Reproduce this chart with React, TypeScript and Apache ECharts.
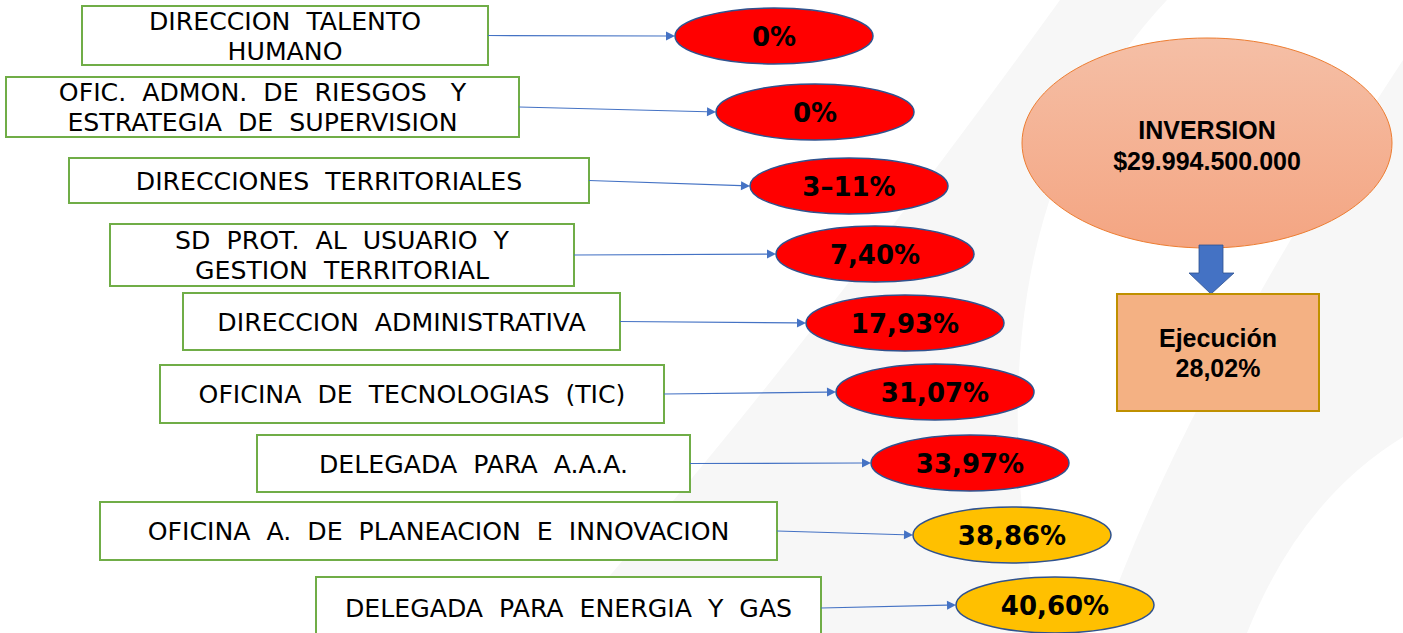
import React, { useEffect, useRef } from "react";
import * as echarts from "echarts";

// ---------- data ----------
const UNITS: string[] = [
  "DIRECCION  TALENTO\nHUMANO",
  "OFIC.  ADMON.  DE  RIESGOS   Y\nESTRATEGIA  DE  SUPERVISION",
  "DIRECCIONES  TERRITORIALES",
  "SD  PROT.  AL  USUARIO  Y\nGESTION  TERRITORIAL",
  "DIRECCION  ADMINISTRATIVA",
  "OFICINA  DE  TECNOLOGIAS  (TIC)",
  "DELEGADA  PARA  A.A.A.",
  "OFICINA  A.  DE  PLANEACION  E  INNOVACION",
  "DELEGADA  PARA  ENERGIA  Y  GAS",
];
const EXECUTION_LABELS: string[] = ["0%", "0%", "3–11%", "7,40%", "17,93%", "31,07%", "33,97%", "38,86%", "40,60%"];
const EXECUTION_STATUS: string[] = ["bajo", "bajo", "bajo", "bajo", "bajo", "bajo", "bajo", "medio", "medio"];
const INVESTMENT_TITLE = "INVERSION";
const INVESTMENT_VALUE = "$29.994.500.000";
const TOTAL_TITLE = "Ejecución";
const TOTAL_VALUE = "28,02%";

// ---------- layout (positions / sizes) ----------
const W = 1403;
const H = 633;
const BOX_RECTS: number[][] = [
  [82, 6, 406, 59],
  [6, 77, 513, 60],
  [69, 158, 520, 45],
  [110, 224, 464, 62],
  [183, 293, 437, 57],
  [160, 365, 504, 58],
  [257, 435, 433, 57],
  [100, 502, 677, 58],
  [316, 577, 505, 62],
];
const OVAL_CENTERS: number[][] = [
  [774, 36],
  [815, 112],
  [849, 186],
  [875, 254],
  [905, 323],
  [935, 392],
  [970, 463],
  [1012, 535],
  [1055, 605],
];
const OVAL_RX = 99;
const OVAL_RY = 28;
const STATUS_COLORS: Record<string, string> = { bajo: "#FF0000", medio: "#FFC000" };

echarts.graphic.registerShape(
  "swooshA",
  echarts.graphic.extendPath("M560 633 Q800 360 1060 0 L1167 0 Q960 220 1040 633 Z", {})
);
echarts.graphic.registerShape(
  "swooshB",
  echarts.graphic.extendPath("M1100 633 Q1180 400 1403 60 L1403 437 Q1300 500 1247 633 Z", {})
);

export default function App() {
  const ref = useRef<HTMLDivElement>(null);
  useEffect(() => {
    document.body.style.margin = "0";
    const chart = echarts.init(ref.current!, null, { renderer: "svg" });
    const els: any[] = [];
    els.push({ type: "rect", shape: { x: 0, y: 0, width: W, height: H }, style: { fill: "#ffffff" }, silent: true });
    els.push({ type: "swooshA", x: 0, y: 0, scaleX: 1, scaleY: 1, style: { fill: "#f7f7f7" }, silent: true });
    els.push({ type: "swooshB", x: 0, y: 0, scaleX: 1, scaleY: 1, style: { fill: "#f7f7f7" }, silent: true });

    UNITS.forEach((label, i) => {
      const [bx, by, bw, bh] = BOX_RECTS[i];
      const [cx, cy] = OVAL_CENTERS[i];
      els.push({
        type: "rect",
        shape: { x: bx, y: by, width: bw, height: bh },
        style: { fill: "#ffffff", stroke: "#70AD47", lineWidth: 2 },
      });
      els.push({
        type: "text",
        x: bx + bw / 2,
        y: by + bh / 2 + 1,
        scaleX: 1.05,
        style: {
          text: label,
          x: 0,
          y: 0,
          align: "center",
          verticalAlign: "middle",
          fontFamily: "DejaVu Sans",
          fontSize: 24,
          lineHeight: 30,
          fill: "#000000",
        },
      });
      // connector arrow
      const x1 = bx + bw;
      const y1 = by + bh / 2;
      const x2 = cx - OVAL_RX;
      const y2 = cy;
      const dx = x2 - x1;
      const dy = y2 - y1;
      const len = Math.sqrt(dx * dx + dy * dy);
      const ux = dx / len;
      const uy = dy / len;
      const hl = 9;
      const hw = 4.5;
      const bxh = x2 - ux * hl;
      const byh = y2 - uy * hl;
      els.push({
        type: "line",
        shape: { x1, y1, x2: bxh, y2: byh },
        style: { stroke: "#4472C4", lineWidth: 1.2 },
      });
      els.push({
        type: "polygon",
        shape: {
          points: [
            [x2, y2],
            [bxh - uy * hw, byh + ux * hw],
            [bxh + uy * hw, byh - ux * hw],
          ],
        },
        style: { fill: "#4472C4" },
      });
      els.push({
        type: "ellipse",
        shape: { cx, cy, rx: OVAL_RX, ry: OVAL_RY },
        style: { fill: STATUS_COLORS[EXECUTION_STATUS[i]], stroke: "#2F528F", lineWidth: 1.5 },
      });
      els.push({
        type: "text",
        style: {
          text: EXECUTION_LABELS[i],
          x: cx,
          y: cy + 1,
          align: "center",
          verticalAlign: "middle",
          fontFamily: "DejaVu Sans",
          fontWeight: "bold",
          fontSize: 26,
          fill: "#000000",
        },
      });
    });

    // investment ellipse
    els.push({
      type: "ellipse",
      shape: { cx: 1207, cy: 143, rx: 185, ry: 105 },
      style: {
        fill: new echarts.graphic.LinearGradient(0, 0, 0, 1, [
          { offset: 0, color: "#F5BFA6" },
          { offset: 1, color: "#F4A582" },
        ]),
        stroke: "#ED7D31",
        lineWidth: 1,
      },
    });
    els.push({
      type: "text",
      style: {
        text: INVESTMENT_TITLE + "\n" + INVESTMENT_VALUE,
        x: 1207,
        y: 145,
        align: "center",
        verticalAlign: "middle",
        fontFamily: "Liberation Sans",
        fontWeight: "bold",
        fontSize: 25,
        lineHeight: 31,
        fill: "#000000",
      },
    });
    // down arrow
    els.push({
      type: "polygon",
      shape: {
        points: [
          [1199, 245],
          [1223, 245],
          [1223, 273],
          [1234, 273],
          [1211, 294],
          [1189, 273],
          [1199, 273],
        ],
      },
      style: { fill: "#4472C4", stroke: "#2F528F", lineWidth: 0.8 },
    });
    // execution box
    els.push({
      type: "rect",
      shape: { x: 1117, y: 294, width: 202, height: 117 },
      style: { fill: "#F4B183", stroke: "#BF9000", lineWidth: 2 },
    });
    els.push({
      type: "text",
      style: {
        text: TOTAL_TITLE + "\n" + TOTAL_VALUE,
        x: 1218,
        y: 353,
        align: "center",
        verticalAlign: "middle",
        fontFamily: "Liberation Sans",
        fontWeight: "bold",
        fontSize: 25,
        lineHeight: 30,
        fill: "#000000",
      },
    });

    chart.setOption({ animation: false, backgroundColor: "#ffffff", graphic: { elements: els } });
    return () => chart.dispose();
  }, []);
  return <div ref={ref} style={{ width: W, height: H }} />;
}
